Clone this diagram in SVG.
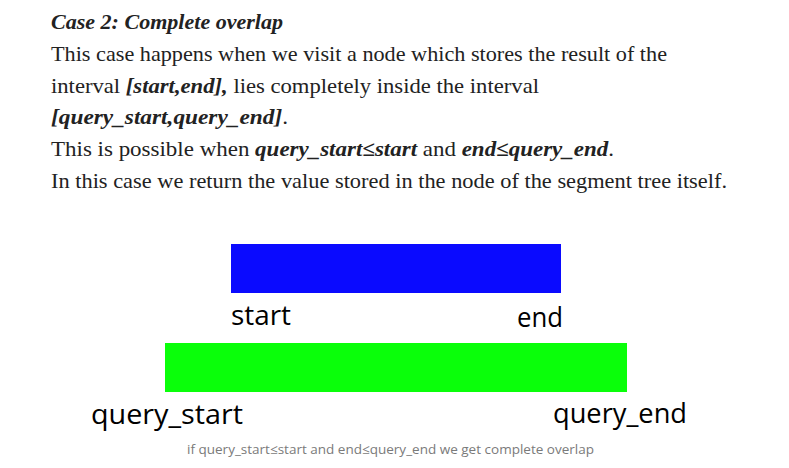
<svg xmlns="http://www.w3.org/2000/svg" width="789" height="468" viewBox="0 0 789 468">
<style>
.p{font-family:"Liberation Serif","DejaVu Serif",serif;font-size:21px;fill:#222}
.bi{font-weight:bold;font-style:italic}
.lbl{font-family:"Open Sans","Noto Sans","DejaVu Sans",sans-serif;font-size:28px;fill:#000}
.cap{font-family:"Open Sans","Noto Sans","DejaVu Sans",sans-serif;font-size:13px;fill:#7a7a7a}
</style>
<rect width="789" height="468" fill="#fff"/>
<g id="paragraph">
<text class="p bi" x="51" y="29" textLength="232" lengthAdjust="spacingAndGlyphs">Case 2: Complete overlap</text>
<text class="p" x="51" y="61" textLength="616" lengthAdjust="spacingAndGlyphs">This case happens when we visit a node which stores the result of the</text>
<text class="p" x="51" y="92.5" textLength="488" lengthAdjust="spacingAndGlyphs">interval <tspan class="bi">[start,end],</tspan> lies completely inside the interval</text>
<text class="p" x="51" y="124" textLength="237" lengthAdjust="spacingAndGlyphs"><tspan class="bi">[query_start,query_end]</tspan>.</text>
<text class="p" x="51" y="156" textLength="563" lengthAdjust="spacingAndGlyphs">This is possible when <tspan class="bi">query_start≤start</tspan> and <tspan class="bi">end≤query_end</tspan>.</text>
<text class="p" x="51" y="188" textLength="676" lengthAdjust="spacingAndGlyphs">In this case we return the value stored in the node of the segment tree itself.</text>
</g>
<g id="interval-node">
<rect x="231" y="244" width="330" height="49" fill="#0a0aff"/>
<text class="lbl" x="231" y="325" textLength="60" lengthAdjust="spacingAndGlyphs">start</text>
<text class="lbl" x="517" y="327" textLength="46" lengthAdjust="spacingAndGlyphs">end</text>
</g>
<g id="query-interval">
<rect x="165" y="343" width="462" height="49" fill="#0aff0a"/>
<text class="lbl" x="91" y="424" textLength="152" lengthAdjust="spacingAndGlyphs">query_start</text>
<text class="lbl" x="553" y="422.5" textLength="134" lengthAdjust="spacingAndGlyphs">query_end</text>
</g>
<g id="connectors"></g>
<text class="cap" x="187" y="454" textLength="407" lengthAdjust="spacingAndGlyphs">if query_start≤start and end≤query_end we get complete overlap</text>
</svg>
